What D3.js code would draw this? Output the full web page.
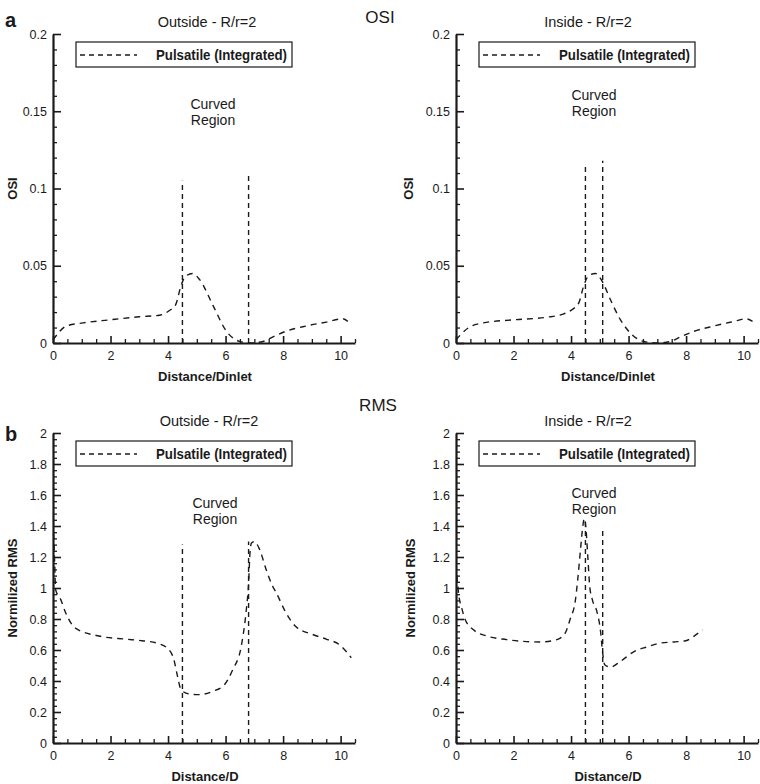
<!DOCTYPE html>
<html>
<head>
<meta charset="utf-8">
<script src="https://cdn.jsdelivr.net/npm/d3@7"></script>
<style>
  html, body { margin: 0; padding: 0; background: #fff; }
  svg { display: block; font-family: "Liberation Sans", Arial, sans-serif; }
</style>
</head>
<body>
<svg id="chart" width="760" height="784"></svg>
<script>
// ---------- data ----------
const xTicks = [0, 2, 4, 6, 8, 10];
const osiTicks = [0, 0.05, 0.1, 0.15, 0.2];
const osiTickLabels = ["0", "0.05", "0.1", "0.15", "0.2"];
const rmsTicks = [0, 0.2, 0.4, 0.6, 0.8, 1, 1.2, 1.4, 1.6, 1.8, 2];
const rmsTickLabels = ["0", "0.2", "0.4", "0.6", "0.8", "1", "1.2", "1.4", "1.6", "1.8", "2"];

const legendLabel = "Pulsatile (Integrated)";
const regionLabel = ["Curved", "Region"];

// OSI, outside wall  [distance/Dinlet, OSI]
const osiOutside = [
  [0, 0.002], [0.47, 0.011], [1.05, 0.013], [1.98, 0.015], [3.0, 0.017],
  [3.7, 0.018], [4.05, 0.021], [4.27, 0.025], [4.45, 0.037], [4.6, 0.043],
  [4.85, 0.045], [5.1, 0.041], [5.57, 0.024], [6.03, 0.0076], [6.49, 0.001],
  [6.84, 0.0], [7.3, 0.001], [7.65, 0.004], [8.1, 0.0076], [8.8, 0.011],
  [9.5, 0.0135], [10.08, 0.0157], [10.25, 0.014]
];
// OSI, inside wall
const osiInside = [
  [0, 0.002], [0.43, 0.0098], [0.95, 0.013], [2.0, 0.015], [3.16, 0.0167],
  [3.69, 0.0185], [4.04, 0.0217], [4.27, 0.026], [4.44, 0.037], [4.61, 0.0435],
  [4.85, 0.045], [5.08, 0.040], [5.37, 0.028], [5.72, 0.015], [6.12, 0.0054],
  [6.53, 0.001], [7.0, 0.0], [7.46, 0.001], [7.81, 0.004], [8.28, 0.0076],
  [8.97, 0.011], [9.67, 0.014], [10.08, 0.0157], [10.31, 0.014]
];
// RMS, outside wall  [distance/D, normalized RMS]
const rmsOutside = [
  [0.02, 1.35], [0.06, 1.15], [0.09, 0.99], [0.27, 0.925], [0.44, 0.84],
  [0.79, 0.74], [1.6, 0.69], [2.53, 0.67], [3.1, 0.66], [3.69, 0.64],
  [4.04, 0.60], [4.2, 0.54], [4.33, 0.43], [4.45, 0.344], [4.74, 0.316],
  [5.09, 0.312], [5.55, 0.333], [5.96, 0.376], [6.25, 0.473], [6.54, 0.62],
  [6.71, 0.84], [6.8, 1.03], [6.85, 1.23], [6.9, 1.29], [7.0, 1.30],
  [7.18, 1.25], [7.41, 1.12], [7.64, 1.01], [7.76, 0.97], [8.1, 0.84],
  [8.45, 0.75], [9.03, 0.70], [9.5, 0.67], [9.96, 0.634], [10.37, 0.55]
];
// RMS, inside wall
const rmsInside = [
  [0.03, 1.08], [0.1, 0.95], [0.2, 0.87], [0.31, 0.80], [0.61, 0.73],
  [1.07, 0.69], [1.76, 0.667], [2.46, 0.654], [2.93, 0.652], [3.51, 0.667],
  [3.8, 0.71], [3.97, 0.80], [4.15, 0.92], [4.23, 1.05], [4.33, 1.25],
  [4.41, 1.40], [4.46, 1.45], [4.52, 1.38], [4.58, 1.21], [4.65, 1.01],
  [4.74, 0.925], [4.91, 0.84], [5.02, 0.73], [5.1, 0.58], [5.17, 0.505],
  [5.37, 0.49], [5.72, 0.527], [6.19, 0.59], [6.65, 0.62], [7.12, 0.645],
  [7.58, 0.652], [7.99, 0.66], [8.28, 0.69], [8.57, 0.73]
];

// curved-region boundary markers [x, top value]
const osiOutsideRegion = [[4.5, 0.105], [6.8, 0.11]];
const osiInsideRegion = [[4.5, 0.1165], [5.1, 0.118]];
const rmsOutsideRegion = [[4.5, 1.28], [6.8, 1.30]];
const rmsInsideRegion = [[4.5, 1.43], [5.1, 1.37]];

// ---------- layout ----------
const svg = d3.select("#chart");
const ink = "#1a1a1a";

const panels = [
  { title: "Outside - R/r=2", data: osiOutside, region: osiOutsideRegion, left: 53, top: 34, bottom: 343,
    yMax: 0.2, yTicks: osiTicks, yLabels: osiTickLabels, yMinorStep: 0.01, yLabel: "OSI", xLabel: "Distance/Dinlet",
    titleY: 27, regionY: 109, cx: 213, yLabelX: 12, xLabelCx: 205, xLabelY: 381 },
  { title: "Inside - R/r=2", data: osiInside, region: osiInsideRegion, left: 456, top: 34, bottom: 343,
    yMax: 0.2, yTicks: osiTicks, yLabels: osiTickLabels, yMinorStep: 0.01, yLabel: "OSI", xLabel: "Distance/Dinlet",
    titleY: 27, regionY: 100, cx: 594, yLabelX: 408, xLabelCx: 608, xLabelY: 381 },
  { title: "Outside - R/r=2", data: rmsOutside, region: rmsOutsideRegion, left: 53, top: 433, bottom: 743,
    yMax: 2, yTicks: rmsTicks, yLabels: rmsTickLabels, yMinorStep: 0.04, yLabel: "Normilized RMS", xLabel: "Distance/D",
    titleY: 426, regionY: 508, cx: 215, yLabelX: 12, xLabelCx: 205, xLabelY: 781 },
  { title: "Inside - R/r=2", data: rmsInside, region: rmsInsideRegion, left: 456, top: 433, bottom: 743,
    yMax: 2, yTicks: rmsTicks, yLabels: rmsTickLabels, yMinorStep: 0.04, yLabel: "Normilized RMS", xLabel: "Distance/D",
    titleY: 426, regionY: 498, cx: 594, yLabelX: 410, xLabelCx: 608, xLabelY: 781 }
];

const plotW = 302;

panels.forEach(p => {
  const x = d3.scaleLinear().domain([0, 10.5]).range([p.left, p.left + plotW]);
  const y = d3.scaleLinear().domain([0, p.yMax]).range([p.bottom, p.top]);
  const g = svg.append("g");

  // minor y ticks
  const yMinor = d3.range(0, p.yMax + 1e-9, p.yMinorStep).map(v => +v.toFixed(4))
    .filter(v => !p.yTicks.some(t => Math.abs(t - v) < 1e-6));
  g.append("g").attr("transform", `translate(${p.left},0)`)
    .call(d3.axisLeft(y).tickValues(yMinor).tickSize(-4).tickSizeOuter(0).tickFormat(""))
    .call(s => s.select(".domain").remove())
    .call(s => s.selectAll("line").attr("stroke", ink).attr("stroke-width", 1.3));

  // major y ticks
  g.append("g").attr("transform", `translate(${p.left},0)`)
    .call(d3.axisLeft(y).tickValues(p.yTicks).tickSize(-8).tickSizeOuter(0).tickPadding(6)
      .tickFormat((d, i) => p.yLabels[i]))
    .call(s => s.select(".domain").attr("stroke", ink).attr("stroke-width", 2.2))
    .call(s => s.selectAll("line").attr("stroke", ink).attr("stroke-width", 1.6))
    .call(s => s.selectAll("text").attr("fill", ink).style("font-size", "12.5px")
      .style("font-family", "'Liberation Sans', Arial, sans-serif"));

  // minor x ticks
  const xMinor = d3.range(0, 10.51, 0.5).filter(v => !xTicks.includes(v));
  g.append("g").attr("transform", `translate(0,${p.bottom})`)
    .call(d3.axisBottom(x).tickValues(xMinor).tickSize(-4).tickSizeOuter(0).tickFormat(""))
    .call(s => s.select(".domain").remove())
    .call(s => s.selectAll("line").attr("stroke", ink).attr("stroke-width", 1.3));

  // major x ticks
  g.append("g").attr("transform", `translate(0,${p.bottom})`)
    .call(d3.axisBottom(x).tickValues(xTicks).tickSize(-7).tickSizeOuter(0).tickPadding(8))
    .call(s => s.select(".domain").attr("stroke", ink).attr("stroke-width", 2.2))
    .call(s => s.selectAll("line").attr("stroke", ink).attr("stroke-width", 1.6))
    .call(s => s.selectAll("text").attr("fill", ink).style("font-size", "12.5px")
      .style("font-family", "'Liberation Sans', Arial, sans-serif"));

  // region boundary lines
  g.selectAll(".region").data(p.region).join("line")
    .attr("x1", d => x(d[0])).attr("x2", d => x(d[0]))
    .attr("y1", y(0)).attr("y2", d => y(d[1]))
    .attr("stroke", ink).attr("stroke-width", 1.4).attr("stroke-dasharray", "5,4");

  // data curve
  const line = d3.line().x(d => x(d[0])).y(d => y(d[1])).curve(d3.curveMonotoneX);
  g.append("path").datum(p.data).attr("d", line)
    .attr("fill", "none").attr("stroke", ink).attr("stroke-width", 1.4).attr("stroke-dasharray", "6,5");

  // legend box
  const lx = p.left + 23, ly = p.top + 8;
  g.append("rect").attr("x", lx).attr("y", ly).attr("width", 216).attr("height", 25)
    .attr("fill", "#fff").attr("stroke", ink).attr("stroke-width", 1.2);
  g.append("line").attr("x1", lx + 4).attr("x2", lx + 61).attr("y1", ly + 13).attr("y2", ly + 13)
    .attr("stroke", ink).attr("stroke-width", 1.3).attr("stroke-dasharray", "5,4");
  g.append("text").attr("x", lx + 80).attr("y", ly + 18)
    .attr("textLength", 131).attr("lengthAdjust", "spacingAndGlyphs")
    .style("font-size", "14px").style("font-weight", "bold").attr("fill", ink)
    .text(legendLabel);

  // panel title
  g.append("text").attr("x", p.cx - 6).attr("y", p.titleY).attr("text-anchor", "middle")
    .style("font-size", "14.5px").attr("fill", ink).text(p.title);

  // curved region label
  g.selectAll(".rl").data(regionLabel).join("text")
    .attr("x", p.cx).attr("y", (d, i) => p.regionY + i * 15.5).attr("text-anchor", "middle")
    .style("font-size", "14px").attr("fill", ink).text(d => d);

  // axis titles
  g.append("text").attr("transform", `translate(${p.yLabelX + 5},${(p.top + p.bottom) / 2}) rotate(-90)`)
    .attr("text-anchor", "middle").style("font-size", "13px").style("font-weight", "bold")
    .attr("fill", ink).text(p.yLabel);
  g.append("text").attr("x", p.xLabelCx).attr("y", p.xLabelY).attr("text-anchor", "middle")
    .style("font-size", "13px").style("font-weight", "bold").attr("fill", ink).text(p.xLabel);
});

// section headings
svg.append("text").attr("x", 380).attr("y", 23).attr("text-anchor", "middle")
  .style("font-size", "17px").attr("fill", ink).text("OSI");
svg.append("text").attr("x", 378).attr("y", 411).attr("text-anchor", "middle")
  .style("font-size", "17px").attr("fill", ink).text("RMS");
svg.append("text").attr("x", 5).attr("y", 27)
  .style("font-size", "20px").style("font-weight", "bold").attr("fill", ink).text("a");
svg.append("text").attr("x", 5).attr("y", 441)
  .style("font-size", "20px").style("font-weight", "bold").attr("fill", ink).text("b");
</script>
</body>
</html>
